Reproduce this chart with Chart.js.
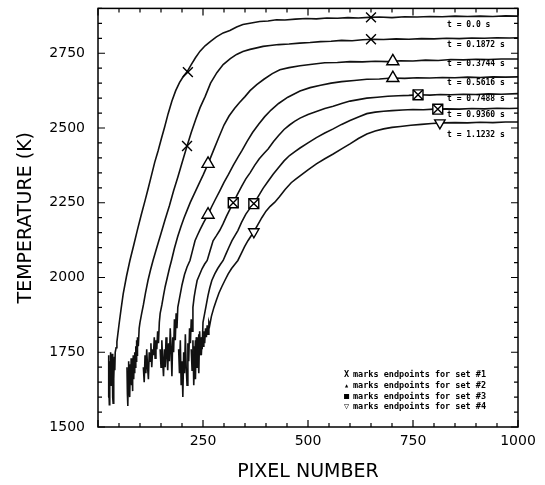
<!DOCTYPE html>
<html>
<head>
<meta charset="utf-8">
<script src="https://cdn.jsdelivr.net/npm/chart.js@4.4.1/dist/chart.umd.min.js"></script>
<style>
  body { margin: 0; background: #fff; }
  #wrap { width: 545px; height: 485px; }
</style>
</head>
<body>
<div id="wrap"><canvas id="tempChart"></canvas></div>
<script>
// === DATA (pixel number, temperature K) ===
const curveT0 = [[24,1600],[25,1740],[26,1650],[27,1575],[28,1720],[29,1690],[30,1750],[31,1640],[32,1710],[33,1670],[34,1745],[35,1600],[36,1580],[37,1700],[38,1660],[39,1735],[40,1690],[41,1750],
  [43,1765],[45,1785],[50,1842],[55,1895],[60,1945],[68,2005],[76,2057],[85,2108],[94,2160],[103,2210],[112,2257],[119,2295],[127,2340],[135,2385],[143,2423],[151,2465],[159,2505],[167,2548],[176,2590],[185,2625],[194,2652],[203,2672],[212,2688],[222,2712],[232,2735],[243,2757],[255,2775],[268,2790],[282,2805],[298,2818],[314,2826],[330,2838],[345,2846],[365,2851],[385,2856],[405,2858],[425,2862],[445,2861],[470,2864],[495,2866],[520,2865],[545,2868],[570,2867],[595,2869],[620,2868],[645,2870],[670,2871],[700,2869],[730,2872],[760,2871],[790,2873],[820,2872],[850,2874],[880,2873],[910,2874],[940,2873],[970,2875],[1000,2874]];

const curveT1 = [[69,1700],[70,1610],[71,1570],[72,1680],[73,1720],[74,1630],[75,1690],[76,1600],[77,1710],[78,1660],[79,1730],[80,1640],[81,1700],[82,1620],[83,1690],[84,1740],[85,1660],[86,1720],[87,1680],[88,1750],[89,1700],[90,1770],[91,1720],[92,1790],[93,1740],[94,1800],[96,1770],[98,1830],
  [100,1850],[104,1880],[108,1908],[113,1948],[119,1990],[125,2025],[131,2057],[140,2100],[150,2147],[160,2195],[170,2240],[180,2290],[190,2335],[201,2388],[212,2440],[222,2485],[233,2530],[243,2568],[255,2605],[268,2650],[283,2685],[298,2712],[315,2732],[330,2746],[345,2756],[362,2763],[378,2768],[393,2773],[410,2776],[430,2779],[455,2781],[480,2784],[505,2786],[530,2789],[555,2790],[580,2793],[605,2792],[630,2795],[655,2797],[680,2796],[710,2798],[740,2797],[770,2799],[800,2798],[830,2800],[860,2799],[890,2801],[920,2800],[950,2802],[980,2801],[1000,2802]];

const curveT2 = [[108,1700],[110,1650],[112,1740],[114,1680],[116,1760],[118,1700],[120,1660],[122,1750],[124,1720],[126,1780],[128,1700],[130,1760],[132,1740],[134,1800],[136,1730],[138,1790],[140,1760],[142,1820],[144,1780],[146,1850],
  [148,1880],[152,1908],[156,1940],[160,1970],[165,2000],[170,2030],[175,2057],[182,2098],[190,2138],[198,2172],[205,2200],[213,2228],[220,2252],[230,2282],[240,2312],[251,2345],[262,2380],[275,2425],[288,2470],[300,2510],[312,2540],[325,2565],[337,2585],[350,2605],[362,2625],[378,2645],[395,2663],[415,2682],[433,2695],[455,2702],[481,2708],[510,2713],[540,2718],[570,2719],[600,2722],[630,2721],[660,2723],[690,2722],[720,2725],[750,2724],[780,2727],[810,2726],[840,2729],[870,2728],[900,2730],[930,2729],[960,2731],[1000,2731]];

const curveT3 = [[148,1760],[150,1700],[152,1790],[154,1720],[156,1670],[158,1760],[160,1700],[162,1800],[164,1740],[166,1690],[168,1780],[170,1720],[172,1830],[174,1760],[176,1670],[178,1800],[180,1750],[182,1860],[184,1790],[186,1880],[188,1830],[190,1900],
  [194,1930],[200,1975],[206,2010],[212,2035],[219,2057],[225,2090],[231,2123],[237,2142],[243,2160],[252,2185],[262,2210],[270,2235],[279,2260],[290,2290],[300,2318],[310,2343],[322,2375],[333,2402],[343,2425],[355,2455],[368,2485],[382,2512],[397,2538],[412,2560],[430,2582],[452,2603],[481,2624],[505,2635],[530,2643],[555,2650],[580,2655],[610,2659],[640,2663],[670,2664],[700,2667],[730,2666],[760,2668],[790,2667],[820,2669],[850,2668],[880,2670],[910,2669],[940,2671],[970,2670],[1000,2671]];

const curveT4 = [[192,1760],[194,1680],[196,1790],[198,1640],[200,1720],[202,1600],[204,1750],[206,1680],[208,1810],[210,1700],[212,1640],[214,1780],[216,1720],[218,1830],[220,1780],[222,1860],[224,1820],[226,1900],
  [229,1935],[232,1960],[236,1990],[242,2010],[248,2030],[254,2045],[260,2057],[267,2090],[274,2123],[282,2140],[290,2158],[298,2180],[306,2205],[314,2228],[322,2250],[332,2278],[342,2305],[352,2330],[362,2350],[373,2375],[384,2397],[395,2415],[405,2430],[418,2455],[430,2475],[443,2495],[456,2510],[468,2522],[481,2533],[500,2545],[520,2555],[540,2565],[560,2573],[580,2582],[600,2590],[620,2595],[640,2600],[665,2603],[690,2606],[715,2608],[740,2609],[765,2611],[790,2610],[815,2612],[840,2611],[870,2613],[900,2612],[930,2614],[960,2613],[1000,2615]];

const curveT5 = [[222,1760],[224,1690],[226,1790],[228,1640],[230,1740],[232,1660],[234,1800],[236,1700],[238,1760],[240,1680],[242,1820],[244,1740],[246,1800],[248,1760],[250,1850],
  [254,1880],[258,1910],[262,1940],[266,1965],[271,1990],[278,2012],[285,2030],[292,2045],[298,2057],[305,2080],[312,2102],[319,2123],[326,2140],[333,2157],[342,2185],[352,2212],[362,2232],[371,2247],[382,2272],[393,2298],[405,2322],[417,2345],[430,2368],[443,2390],[456,2408],[468,2420],[481,2433],[500,2450],[520,2468],[540,2483],[560,2497],[580,2512],[600,2525],[620,2537],[640,2548],[660,2553],[680,2556],[700,2558],[725,2560],[750,2562],[775,2561],[800,2563],[830,2564],[860,2563],[890,2565],[920,2564],[950,2566],[980,2565],[1000,2566]];

const curveT6 = [[228,1770],[230,1720],[232,1790],[234,1740],[236,1800],[238,1750],[240,1810],[242,1760],[244,1790],[246,1740],[248,1800],[250,1770],[252,1820],[254,1780],[256,1830],[258,1800],[260,1840],[262,1810],[264,1850],[266,1840],
  [270,1870],[276,1900],[282,1925],[288,1948],[295,1970],[302,1990],[310,2012],[318,2030],[325,2043],[333,2057],[341,2080],[349,2103],[357,2123],[364,2138],[371,2153],[380,2175],[390,2200],[400,2222],[410,2238],[421,2252],[432,2270],[446,2295],[460,2317],[470,2328],[481,2340],[500,2360],[520,2380],[540,2397],[560,2413],[580,2430],[600,2447],[620,2465],[640,2480],[660,2490],[680,2497],[700,2502],[720,2505],[745,2509],[770,2512],[795,2515],[820,2517],[850,2518],[880,2517],[910,2519],[940,2518],[970,2520],[1000,2520]];

const curves = [curveT0, curveT1, curveT2, curveT3, curveT4, curveT5, curveT6];
const timeLabels = ["t = 0.0 s", "t = 0.1872 s", "t = 0.3744 s", "t = 0.5616 s", "t = 0.7488 s", "t = 0.9360 s", "t = 1.1232 s"];

// endpoint marks
const set1Marks = [[214,2687],[650,2870],[212,2440],[650,2797]];
const set2Marks = [[262,2380],[702,2723],[262,2210],[702,2667]];
const set3Marks = [[322,2250],[762,2611],[371,2247],[809,2563]];
const set4Marks = [[371,2153],[814,2517]];

const legendSymbols = ["X", "▴", "■", "▽"];
const legendTexts = ["marks endpoints for set #1", "marks endpoints for set #2", "marks endpoints for set #3", "marks endpoints for set #4"];

const toXY = arr => arr.map(p => ({ x: p[0], y: p[1] }));

// === PLUGIN: inward ticks, frame, curve labels, legend ===
const framePlugin = {
  id: "frame",
  afterDraw(chart) {
    const { ctx, chartArea: a, scales } = chart;
    ctx.save();
    ctx.strokeStyle = "#000";
    ctx.lineWidth = 1.5;
    ctx.strokeRect(a.left, a.top, a.right - a.left, a.bottom - a.top);

    ctx.lineWidth = 1.2;
    scales.x.ticks.forEach(t => {
      const px = scales.x.getPixelForValue(t.value);
      const len = t.value % 250 === 0 ? 7 : 4;
      ctx.beginPath();
      ctx.moveTo(px, a.bottom); ctx.lineTo(px, a.bottom - len);
      ctx.moveTo(px, a.top); ctx.lineTo(px, a.top + len);
      ctx.stroke();
    });
    scales.y.ticks.forEach(t => {
      const py = scales.y.getPixelForValue(t.value);
      const len = t.value % 250 === 0 ? 7 : 4;
      ctx.beginPath();
      ctx.moveTo(a.left, py); ctx.lineTo(a.left + len, py);
      ctx.moveTo(a.right, py); ctx.lineTo(a.right - len, py);
      ctx.stroke();
    });

    // time labels under each plateau
    const gaps = [9, 7, 5, 6, 5, 7, 13];
    ctx.fillStyle = "#000";
    ctx.font = "bold 8px 'DejaVu Sans Mono'";
    ctx.textAlign = "left";
    ctx.textBaseline = "middle";
    const lx = scales.x.getPixelForValue(831);
    curves.forEach((c, i) => {
      const py = scales.y.getPixelForValue(c[c.length - 1][1]) + gaps[i];
      ctx.fillText(timeLabels[i], lx, py);
    });

    // legend text, bottom right inside the frame
    ctx.font = "bold 8.5px 'DejaVu Sans Mono'";
    const rows = [52, 41, 30, 20];
    legendTexts.forEach((txt, i) => {
      const y = a.bottom - rows[i];
      ctx.fillText(legendSymbols[i], a.left + 246, y);
      ctx.fillText(txt, a.left + 255, y);
    });
    ctx.restore();
  }
};

const lineSets = curves.map(c => ({
  type: "line",
  data: toXY(c),
  borderColor: "#111",
  borderWidth: 1.6,
  pointRadius: 0,
  tension: 0,
  fill: false,
  order: 2
}));

const markSets = [
  { data: toXY(set1Marks), pointStyle: "crossRot", pointRadius: 7, rotation: 0 },
  { data: toXY(set2Marks), pointStyle: "triangle", pointRadius: 7, rotation: 0 },
  { data: toXY(set3Marks), pointStyle: "rect", pointRadius: 7, rotation: 0 },
  { data: toXY(set3Marks), pointStyle: "crossRot", pointRadius: 7, rotation: 0 },
  { data: toXY(set4Marks), pointStyle: "triangle", pointRadius: 6, rotation: 180 }
].map(d => Object.assign(d, {
  type: "scatter",
  showLine: false,
  borderColor: "#000",
  backgroundColor: "#fff",
  pointBorderWidth: 1.4,
  pointBackgroundColor: "#fff",
  pointBorderColor: "#000",
  order: 1
}));
// set 3 cross drawn over its square
markSets[3].order = 0;

new Chart(document.getElementById("tempChart"), {
  type: "line",
  data: { datasets: [...markSets, ...lineSets] },
  options: {
    responsive: true,
    maintainAspectRatio: false,
    animation: false,
    layout: { padding: { left: 0, right: 27, top: 7, bottom: 0 } },
    plugins: { legend: { display: false }, tooltip: { enabled: false } },
    scales: {
      x: {
        type: "linear",
        min: 0,
        max: 1000,
        grid: { display: false, drawTicks: false },
        border: { display: false },
        ticks: {
          stepSize: 50,
          autoSkip: false,
          maxRotation: 0,
          padding: 6,
          color: "#000",
          font: { family: "DejaVu Sans", size: 14 },
          callback: v => (v % 250 === 0 && v > 0) ? String(v) : ""
        },
        title: {
          display: true,
          text: "PIXEL NUMBER",
          color: "#000",
          font: { family: "DejaVu Sans", size: 19 },
          padding: { top: 0, bottom: 2 }
        },
        afterFit: s => { s.height = 58; s.paddingLeft = 0; s.paddingRight = 0; }
      },
      y: {
        min: 1500,
        max: 2900,
        grid: { display: false, drawTicks: false },
        border: { display: false },
        ticks: {
          stepSize: 50,
          autoSkip: false,
          padding: 13,
          color: "#000",
          font: { family: "DejaVu Sans", size: 14 },
          callback: v => v % 250 === 0 ? String(v) : ""
        },
        title: {
          display: true,
          text: "TEMPERATURE (K)",
          color: "#000",
          font: { family: "DejaVu Sans", size: 19 },
          padding: { top: 15, bottom: 0 }
        },
        afterFit: s => { s.width = 98; s.paddingTop = 0; s.paddingBottom = 0; }
      }
    }
  },
  plugins: [framePlugin]
});
</script>
</body>
</html>
